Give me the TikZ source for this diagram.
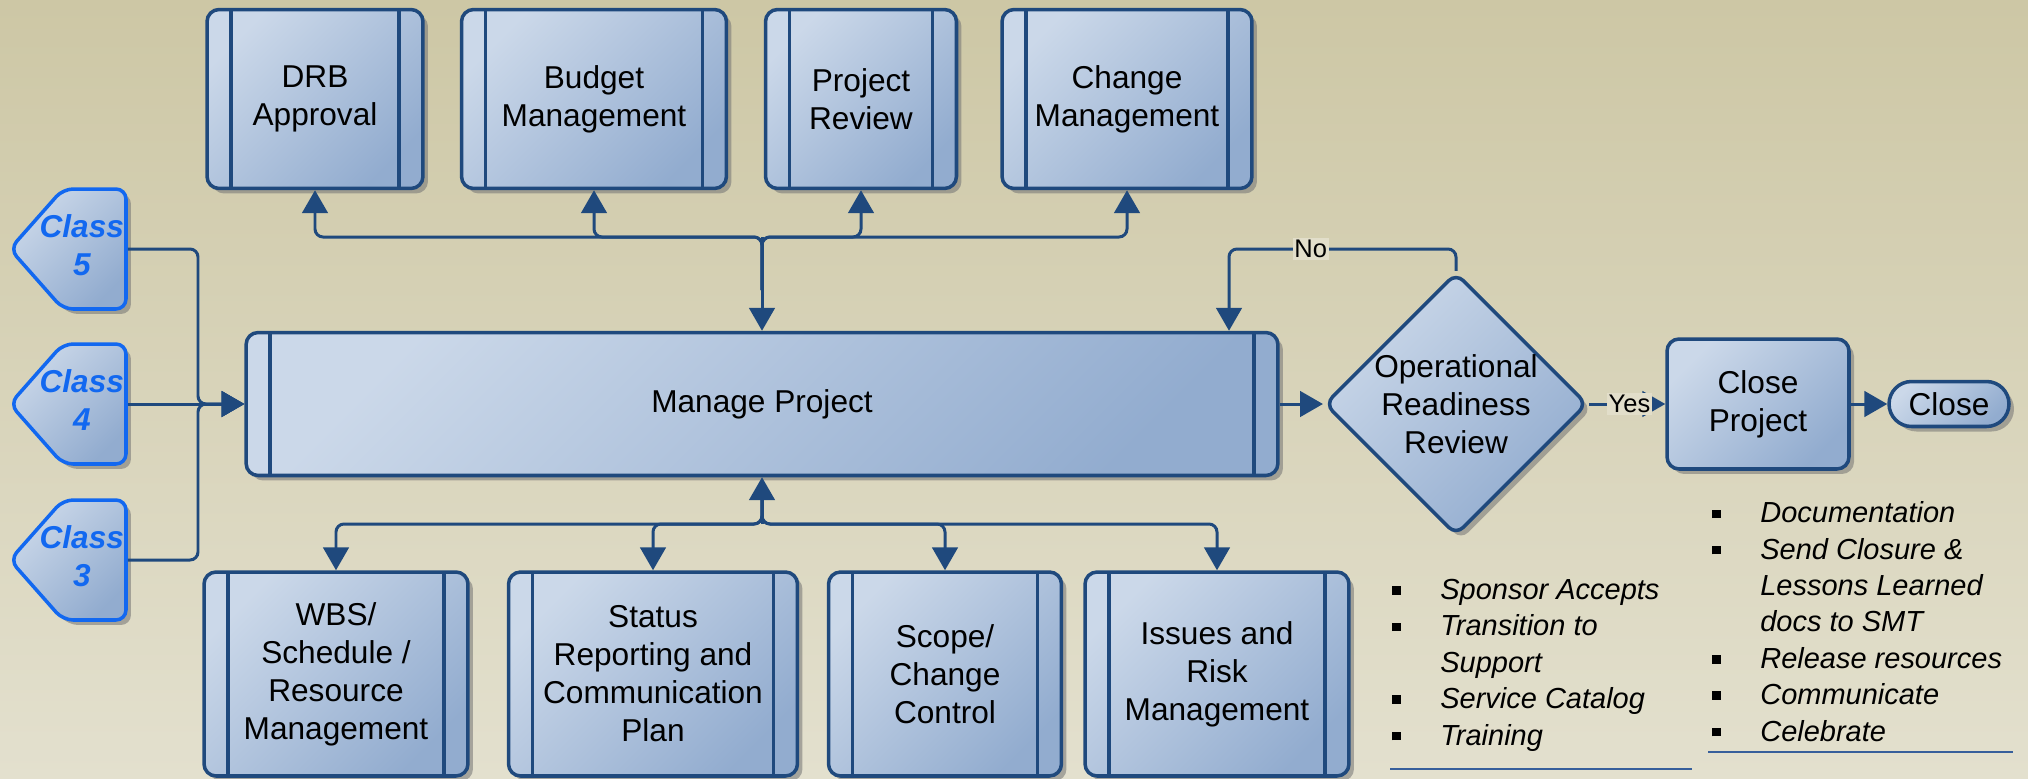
\documentclass[tikz,border=0pt]{standalone}
\usepackage{fontspec}
\setmainfont{Liberation Sans}
\usetikzlibrary{shapes.geometric,shapes.symbols,shadows,arrows.meta}

\definecolor{bgtop}{RGB}{205,199,165}
\definecolor{bgbot}{RGB}{227,224,206}
\definecolor{boxlight}{RGB}{203,216,233}
\definecolor{boxdark}{RGB}{146,172,207}
\definecolor{lineblue}{RGB}{31,73,125}
\definecolor{classblue}{RGB}{18,104,240}
\definecolor{lblbg}{RGB}{226,222,202}
\definecolor{ruleblue}{RGB}{55,95,155}

\newcommand{\sqbul}{\makebox[0.96cm][l]{\rule[2.7pt]{4.8pt}{4.8pt}}}
\newcommand{\sqgap}{\hspace*{0.96cm}}
\newcommand{\classtext}[1]{\makebox[1.26cm][r]{\begin{tabular}{@{}c@{}}Class\\#1\end{tabular}\hspace{0.04cm}}}

\tikzset{
  basebox/.style={draw=lineblue, line width=2pt, top color=boxlight, bottom color=boxdark,
    shading angle=45, inner sep=0pt, align=center,
    font=\fontsize{18pt}{21.6pt}\selectfont,
    drop shadow={shadow xshift=0.1cm, shadow yshift=-0.1cm, fill=black!55, opacity=0.55}},
  subproc/.style={basebox, rounded corners=0.24cm,
    path picture={\draw[lineblue, line width=2pt]
      ([xshift=0.48cm]path picture bounding box.north west) --
      ([xshift=0.48cm]path picture bounding box.south west)
      ([xshift=-0.48cm]path picture bounding box.north east) --
      ([xshift=-0.48cm]path picture bounding box.south east);}},
  topproc/.style={subproc, minimum height=3.58cm},
  lowproc/.style={subproc, minimum height=4.08cm},
  plainproc/.style={basebox, rounded corners=0.24cm},
  decision/.style={basebox, diamond, aspect=1, minimum width=5.1cm, minimum height=5.1cm,
    rounded corners=0.2cm},
  endterm/.style={basebox, rounded corners=0.45cm, minimum width=2.4cm, minimum height=0.9cm},
  classsign/.style={basebox, signal, signal to=west, signal pointer angle=97,
    draw=classblue, minimum height=2.4cm, rounded corners=0.2cm,
    text=classblue, font=\bfseries\itshape\fontsize{18pt}{21.6pt}\selectfont},
  conn/.style={draw=lineblue, line width=1.7pt, rounded corners=0.16cm},
  arr/.style={-{Triangle[length=13pt,width=14.5pt]}},
  lbl/.style={fill=lblbg, text=black, sharp corners, inner sep=1pt,
    font=\fontsize{14.5pt}{17pt}\selectfont},
  notes/.style={align=left, inner sep=0pt, font=\itshape\fontsize{16.5pt}{20.7pt}\selectfont},
}

\begin{document}
\begin{tikzpicture}[x=0.02cm, y=-0.02cm]
  % 背景
  \shade[top color=bgtop, bottom color=bgbot] (0,0) rectangle (2028,778);
  \useasboundingbox (0,0) rectangle (2028,778);

  % 设置节点
  \node[topproc, minimum width=4.32cm] (drb) at (315,99) {DRB\\Approval};
  \node[topproc, minimum width=5.30cm] (budget) at (594,99) {Budget\\Management};
  \node[topproc, minimum width=3.82cm] (review) at (861,99) {Project\\Review};
  \node[topproc, minimum width=5.00cm] (change) at (1127,99) {Change\\Management};

  \node[classsign] (c5) at (94.5,249) {\classtext{5}};
  \node[classsign] (c4) at (94.5,404) {\classtext{4}};
  \node[classsign] (c3) at (94.5,560) {\classtext{3}};

  \node[subproc, minimum width=20.64cm, minimum height=2.86cm] (mp) at (762,404) {Manage Project};
  \node[decision] (orr) at (1456,404) {Operational\\Readiness\\Review};
  \node[plainproc, minimum width=3.64cm, minimum height=2.6cm] (cp) at (1758,404) {Close\\Project};
  \node[endterm] (close) at (1949,404) {Close};

  \node[lowproc, minimum width=5.28cm] (wbs) at (336,674) {WBS/\\Schedule /\\Resource\\Management};
  \node[lowproc, minimum width=5.78cm] (status) at (653,674) {Status\\Reporting and\\Communication\\Plan};
  \node[lowproc, minimum width=4.66cm] (scope) at (945,674) {Scope/\\Change\\Control};
  \node[lowproc, minimum width=5.28cm] (issues) at (1217,674) {Issues and\\Risk\\Management};

  \node[notes, anchor=base west] (accept) at (1392,745)
    {\sqbul Sponsor Accepts\\ \sqbul Transition to\\ \sqgap Support\\
     \sqbul Service Catalog\\ \sqbul Training};
  \node[notes, anchor=base west] (closing) at (1712,741)
    {\sqbul Documentation\\ \sqbul Send Closure \&\\ \sqgap Lessons Learned\\
     \sqgap docs to SMT\\ \sqbul Release resources\\ \sqbul Communicate\\ \sqbul Celebrate};
  \draw[ruleblue, line width=1pt] (1390,769) -- (1692,769);
  \draw[ruleblue, line width=1pt] (1708,752) -- (2013,752);

  % 画连接线
  \coordinate (tstem) at (762,290);
  \coordinate (tbus) at (762,237);
  \foreach \n in {drb,budget,review,change}
    \draw[conn,arr] (tstem) -- (tbus) -| (\n.south);
  \draw[conn,arr] (tbus) -- (mp.north);

  \coordinate (bstem) at (762,500);
  \coordinate (bbus) at (762,524);
  \foreach \n in {wbs,status,scope,issues}
    \draw[conn,arr] (bstem) -- (bbus) -| (\n.north);
  \draw[conn,arr] (bbus) -- (mp.south);

  \coordinate (cjoin) at (198,404);
  \draw[conn,arr] (c5.east) -| (cjoin) -- (mp.west);
  \draw[conn,arr] (c3.east) -| (cjoin) -- (mp.west);
  \draw[conn,arr] (c4.east) -- (mp.west);

  \draw[conn,arr] (mp.east) -- (orr.west);
  \draw[conn,arr] (orr.east) -- node[lbl,pos=0.53]{Yes} (cp.west);
  \draw[conn,arr] (cp.east) -- (close.west);
  \coordinate (nobend) at (1229,249);
  \draw[conn,arr] (orr.north) |- node[lbl,pos=0.82]{No} (nobend) -- (nobend |- mp.north);
\end{tikzpicture}
\end{document}
